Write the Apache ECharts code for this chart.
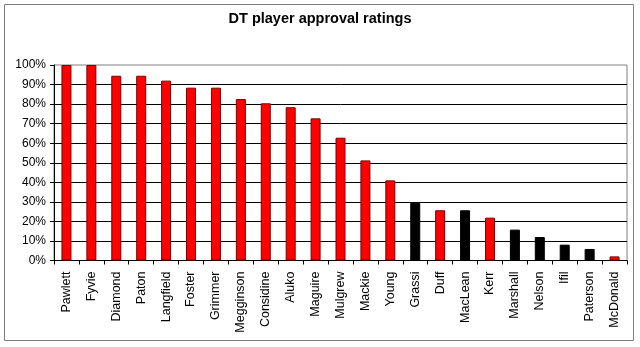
<!DOCTYPE html>
<html>
<head>
<meta charset="utf-8">
<script src="https://cdn.jsdelivr.net/npm/echarts@6/dist/echarts.min.js"></script>
<style>
html,body{margin:0;padding:0;background:#fff;}
#chart{width:640px;height:347px;}
</style>
</head>
<body>
<div id="chart"></div>
<script>
var categories = ['Pawlett','Fyvie','Diamond','Paton','Langfield','Foster','Grimmer','Megginson','Considine','Aluko','Maguire','Mulgrew','Mackie','Young','Grassi','Duff','MacLean','Kerr','Marshall','Nelson','Ifil','Paterson','McDonald'];
var ratings = [100,100,94.5,94.5,92,88.4,88.4,82.6,80.4,78.4,72.7,62.8,51.2,41,29.5,25.7,25.7,21.9,15.8,12,8.1,5.9,2.1];
var blackPlayers = ['Grassi','MacLean','Marshall','Nelson','Ifil','Paterson'];
var yTicks = [0,10,20,30,40,50,60,70,80,90,100];
var titleText = 'DT player approval ratings';

var chart = echarts.init(document.getElementById('chart'), null, {renderer:'canvas'});
var font = 'Arial, "Liberation Sans", sans-serif';
chart.setOption({
  animation:false,
  backgroundColor:'#fff',
  title:{
    text:titleText, left:'center', top:6,
    textStyle:{fontFamily:font, fontSize:14.5, fontWeight:'bold', color:'#000'}
  },
  graphic:[{
    type:'rect', shape:{x:4.5,y:4.5,width:629,height:336},
    style:{fill:null, stroke:'#808080', lineWidth:1}, silent:true
  }],
  grid:{left:54, top:65, width:573, height:195.5, show:true, borderColor:'#808080', borderWidth:1, backgroundColor:'#fff'},
  xAxis:{
    type:'category', data:categories, boundaryGap:true,
    axisLine:{lineStyle:{color:'#000',width:1}},
    axisTick:{show:true, length:4, lineStyle:{color:'#000'}},
    axisLabel:{rotate:90, margin:11, interval:0, fontFamily:font, fontSize:12.5, color:'#000'}
  },
  yAxis:{
    type:'value', min:yTicks[0], max:yTicks[yTicks.length-1], interval:yTicks[1]-yTicks[0],
    axisLine:{show:true, lineStyle:{color:'#000',width:1}},
    axisTick:{show:true, length:4, lineStyle:{color:'#000'}},
    axisLabel:{formatter:'{value}%', margin:8, fontFamily:font, fontSize:12, color:'#000'},
    splitLine:{show:true, showMaxLine:false, lineStyle:{color:'#000', width:1}}
  },
  series:[{
    type:'bar', barWidth:10,
    data:ratings.map(function(v,i){
      var isBlack = blackPlayers.indexOf(categories[i])>=0;
      return {value:v, itemStyle:{color:isBlack?'#000':'#ff0000', borderColor:isBlack?'#000':'#7a0000', borderWidth:1}};
    })
  }]
});
</script>
</body>
</html>
